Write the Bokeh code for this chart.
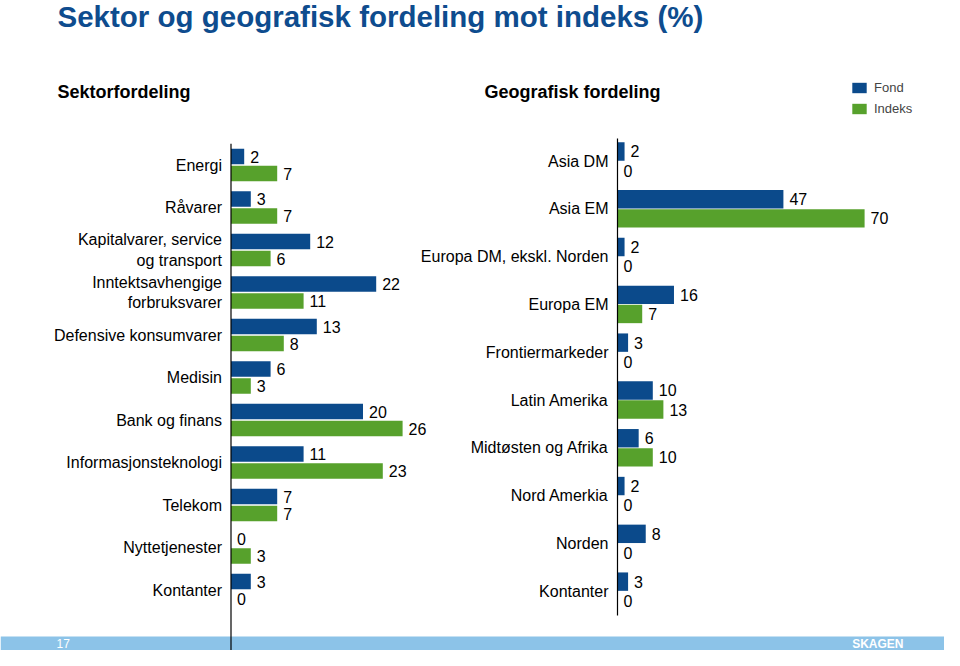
from bokeh.plotting import figure
from bokeh.models import ColumnDataSource, Range1d, Legend, LegendItem
from bokeh.core.properties import value
from bokeh.transform import dodge
from bokeh.embed import file_html
from bokeh.resources import INLINE

# ---------------- data ----------------
title_text = "Sektor og geografisk fordeling mot indeks (%)"
sector_title = "Sektorfordeling"
geo_title = "Geografisk fordeling"
series_names = ["Fond", "Indeks"]

sector_labels = ["Energi", "Råvarer", "Kapitalvarer, service\nog transport",
                 "Inntektsavhengige\nforbruksvarer", "Defensive konsumvarer",
                 "Medisin", "Bank og finans", "Informasjonsteknologi",
                 "Telekom", "Nyttetjenester", "Kontanter"]
sector_fond = [2, 3, 12, 22, 13, 6, 20, 11, 7, 0, 3]
sector_indeks = [7, 7, 6, 11, 8, 3, 26, 23, 7, 3, 0]

geo_labels = ["Asia DM", "Asia EM", "Europa DM, ekskl. Norden", "Europa EM",
              "Frontiermarkeder", "Latin Amerika", "Midtøsten og Afrika",
              "Nord Amerkia", "Norden", "Kontanter"]
geo_fond = [2, 47, 2, 16, 3, 10, 6, 2, 8, 3]
geo_indeks = [0, 70, 0, 7, 0, 13, 10, 0, 0, 0]

page_number = "17"
brand = "SKAGEN"

# ---------------- style ----------------
BLUE = "#0B4A8B"
GREEN = "#57A12C"
TITLE_BLUE = "#0E4C8E"
FOOTER = "#8CC3E8"
FONT_NAME = "Liberation Sans"
FONT = value(FONT_NAME)

W, H = 944, 650


def lin_range(zero_px, px_per_unit, lo_px, hi_px):
    return Range1d((lo_px - zero_px) / px_per_unit, (hi_px - zero_px) / px_per_unit)


def cat_range(first_px, pitch, lo_px, hi_px):
    # inverted: start at the bottom pixel, end at the top pixel
    return Range1d((hi_px - first_px) / pitch, (lo_px - first_px) / pitch)


p = figure(width=W, height=H, x_range=Range1d(0, W), y_range=Range1d(H, 0),
           output_backend="svg", toolbar_location=None, min_border=0,
           x_axis_location=None, y_axis_location=None, outline_line_color=None)
p.grid.visible = False
p.background_fill_color = "white"
p.border_fill_color = "white"

p.extra_x_ranges = {
    "sx": lin_range(230.5, 6.6, 0, W),
    "gx": lin_range(617.0, 3.53, 0, W),
}
p.extra_y_ranges = {
    "sy": cat_range(164.5, 42.5, 0, H),
    "gy": cat_range(160.5, 47.8, 0, H),
}

# footer band
p.quad(left=0, right=W, top=636, bottom=H, fill_color=FOOTER, line_color=None)
p.text(x=[56], y=[643], text=[page_number], text_color="white", text_font=FONT,
       text_font_size="12px", text_baseline="middle")
p.text(x=[903], y=[643], text=[brand], text_color="white", text_font=FONT,
       text_font_size="12px", text_font_style="bold", text_baseline="middle",
       text_align="right")

# titles
p.text(x=[57], y=[16], text=[title_text], text_color=TITLE_BLUE, text_font=FONT,
       text_font_size="29.5px", text_font_style="bold", text_baseline="middle")
p.text(x=[57], y=[91], text=[sector_title], text_color="black", text_font=FONT,
       text_font_size="18px", text_font_style="bold", text_baseline="middle")
p.text(x=[484], y=[91], text=[geo_title], text_color="black", text_font=FONT,
       text_font_size="18px", text_font_style="bold", text_baseline="middle")


def panel(labels, fond, indeks, xr, yr, off, bar_h):
    n = len(labels)
    src = ColumnDataSource(dict(
        idx=list(range(n)), label=labels, fond=fond, indeks=indeks,
        fond_lbl=[str(v) for v in fond], indeks_lbl=[str(v) for v in indeks]))
    kw = dict(source=src, x_range_name=xr, y_range_name=yr)
    rf = p.hbar(y=dodge("idx", -off), left=0, right="fond", height=bar_h,
                fill_color=BLUE, line_color=None, **kw)
    ri = p.hbar(y=dodge("idx", off), left=0, right="indeks", height=bar_h,
                fill_color=GREEN, line_color=None, **kw)
    p.text(x="fond", y=dodge("idx", -off), text="fond_lbl", x_offset=6,
           text_baseline="middle", text_font=FONT, text_font_size="16px",
           text_color="black", **kw)
    p.text(x="indeks", y=dodge("idx", off), text="indeks_lbl", x_offset=6,
           text_baseline="middle", text_font=FONT, text_font_size="16px",
           text_color="black", **kw)
    p.text(x=0, y="idx", text="label", x_offset=-9, text_align="right",
           text_baseline="middle", text_font=FONT, text_font_size="16px",
           text_color="black", text_line_height=1.2, **kw)
    return rf, ri, n


rf, ri, ns = panel(sector_labels, sector_fond, sector_indeks, "sx", "sy", 0.2, 0.37)
p.segment(x0=[0], x1=[0], y0=[-0.5], y1=[ns + 0.5], line_color="black", line_width=1.2,
          x_range_name="sx", y_range_name="sy")
gf, gi, ng = panel(geo_labels, geo_fond, geo_indeks, "gx", "gy", 0.2, 0.385)
p.segment(x0=[0], x1=[0], y0=[-0.47], y1=[ng - 0.49], line_color="black", line_width=1.2,
          x_range_name="gx", y_range_name="gy")

legend = Legend(items=[LegendItem(label=series_names[0], renderers=[rf]),
                       LegendItem(label=series_names[1], renderers=[ri])],
                location=(850, 534), border_line_color=None, background_fill_alpha=0,
                padding=0, margin=0, spacing=6, glyph_width=18, glyph_height=13,
                label_height=13, label_standoff=6, label_text_font_size="13px",
                label_text_font=FONT_NAME)
p.add_layout(legend)

open("out.html", "w").write(file_html(p, INLINE))
